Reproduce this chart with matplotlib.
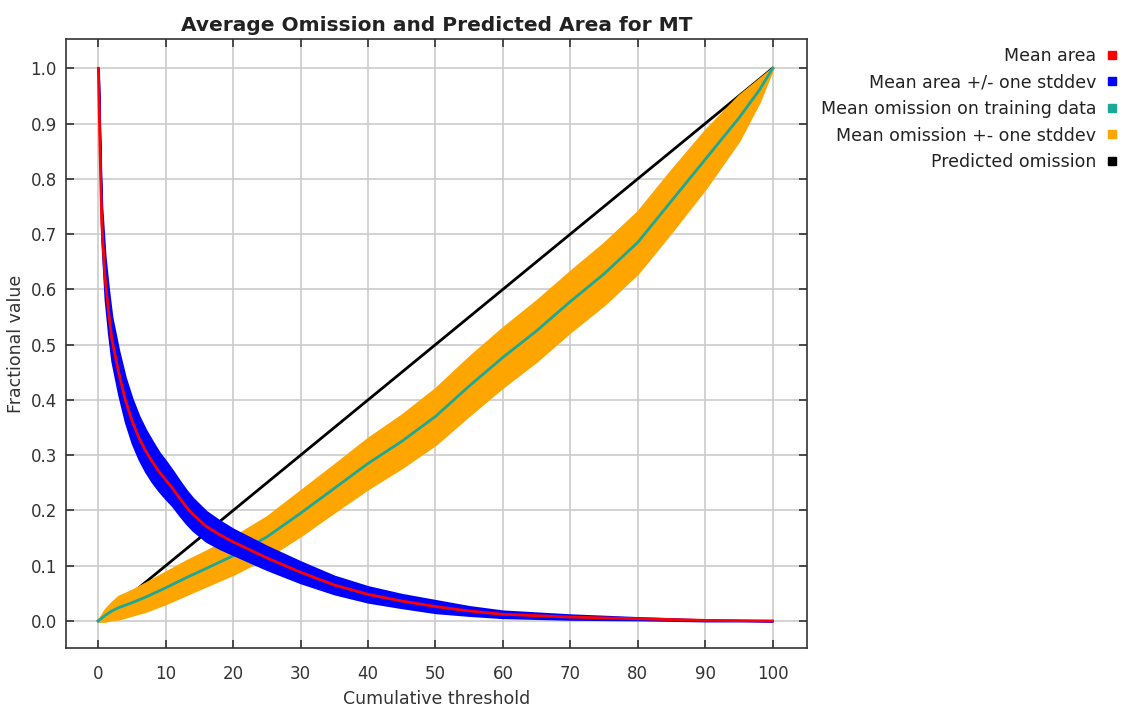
import matplotlib
matplotlib.use("Agg")
import matplotlib.pyplot as plt
from matplotlib.lines import Line2D

# values
thr_area = [0, 0.25, 0.5, 1, 1.5, 2, 3, 4, 5, 6, 7, 8, 9, 10, 11, 12, 13, 14,
            16, 18, 20, 25, 30, 35, 40, 45, 50, 55, 60, 70, 80, 90, 100]
mean_area = [1.0, 0.85, 0.72, 0.62, 0.56, 0.51, 0.45, 0.40, 0.362, 0.332,
             0.308, 0.288, 0.27, 0.255, 0.24, 0.223, 0.207, 0.193, 0.171,
             0.156, 0.143, 0.114, 0.088, 0.065, 0.048, 0.036, 0.026, 0.018,
             0.012, 0.007, 0.004, 0.001, 0.0]
sd_area = [0.0, 0.01, 0.03, 0.038, 0.04, 0.04, 0.04, 0.04, 0.04, 0.039, 0.038,
           0.037, 0.035, 0.034, 0.032, 0.031, 0.03, 0.029, 0.027, 0.025, 0.023,
           0.021, 0.019, 0.016, 0.014, 0.012, 0.011, 0.008, 0.006, 0.004,
           0.002, 0.001, 0.0]

thr_om = [0, 1, 2, 3, 5, 7, 10, 13, 16, 20, 25, 30, 35, 40, 45, 50, 55, 60,
          65, 70, 75, 80, 85, 90, 95, 98, 100]
mean_om = [0.0, 0.01, 0.018, 0.024, 0.033, 0.043, 0.06, 0.078, 0.095, 0.118,
           0.152, 0.195, 0.24, 0.285, 0.325, 0.37, 0.425, 0.477, 0.525, 0.578,
           0.628, 0.685, 0.76, 0.835, 0.91, 0.96, 1.0]
sd_om = [0.0, 0.01, 0.015, 0.02, 0.022, 0.025, 0.028, 0.03, 0.031, 0.033,
         0.036, 0.04, 0.042, 0.045, 0.047, 0.05, 0.052, 0.053, 0.054, 0.054,
         0.055, 0.055, 0.055, 0.052, 0.04, 0.02, 0.0]

pred_x = [0, 100]
pred_y = [0.0, 1.0]

labels = ["Mean area", "Mean area +/- one stddev", "Mean omission on training data",
          "Mean omission +- one stddev", "Predicted omission"]
colors = ["red", "blue", "#1aa898", "orange", "black"]

W, H = 1122, 709
fig = plt.figure(figsize=(W / 100, H / 100), dpi=100)
ax = fig.add_axes([66 / W, 1 - 648 / H, (807 - 66) / W, (648 - 39) / H])

ax.plot(pred_x, pred_y, color="black", lw=2.0, zorder=2)

om_lo = [m - s for m, s in zip(mean_om, sd_om)]
om_hi = [m + s for m, s in zip(mean_om, sd_om)]
ax.fill_between(thr_om, om_lo, om_hi, color="orange", lw=2.0, edgecolor="orange", zorder=3)
ax.plot(thr_om, mean_om, color="#1aa898", lw=2.0, zorder=4)

ar_lo = [m - s for m, s in zip(mean_area, sd_area)]
ar_hi = [m + s for m, s in zip(mean_area, sd_area)]
ax.fill_between(thr_area, ar_lo, ar_hi, color="blue", lw=1.5, edgecolor="blue", zorder=5)
ax.plot(thr_area, mean_area, color="red", lw=2.0, zorder=6)

ax.set_xlim(-4.8, 105.1)
ax.set_ylim(-0.049, 1.053)
ax.set_xticks(range(0, 101, 10))
ax.set_yticks([i / 10 for i in range(11)])
ax.set_yticklabels([f"{i / 10:.1f}" for i in range(11)])
ax.grid(True, color="#cccccc", lw=1.2)
ax.set_axisbelow(True)
ax.tick_params(direction="in", length=6, width=1.2, top=True, right=True,
               labelsize=12, colors="#333333")
ax.tick_params(axis="x", pad=12)
ax.tick_params(axis="y", pad=6.5)
for sp in ax.spines.values():
    sp.set_color("#333333")
    sp.set_linewidth(1.2)

ax.set_title("Average Omission and Predicted Area for MT", fontsize=14.5,
             fontweight="bold", color="#222222", pad=6)
ax.set_xlabel("Cumulative threshold", fontsize=12.5, color="#333333", labelpad=5)
ax.set_ylabel("Fractional value", fontsize=12.5, color="#333333", labelpad=4)

handles = [Line2D([], [], marker="s", ls="none", color=c, markersize=5.5) for c in colors]
fig.legend(handles, labels, loc="upper right", bbox_to_anchor=(1117 / W, 1 - 47 / H),
           markerfirst=False, frameon=False, fontsize=12.5, handlelength=0.6,
           handletextpad=0.6, borderpad=0, borderaxespad=0, labelspacing=0.49,
           labelcolor="#222222")

fig.savefig("out.png", dpi=100)
